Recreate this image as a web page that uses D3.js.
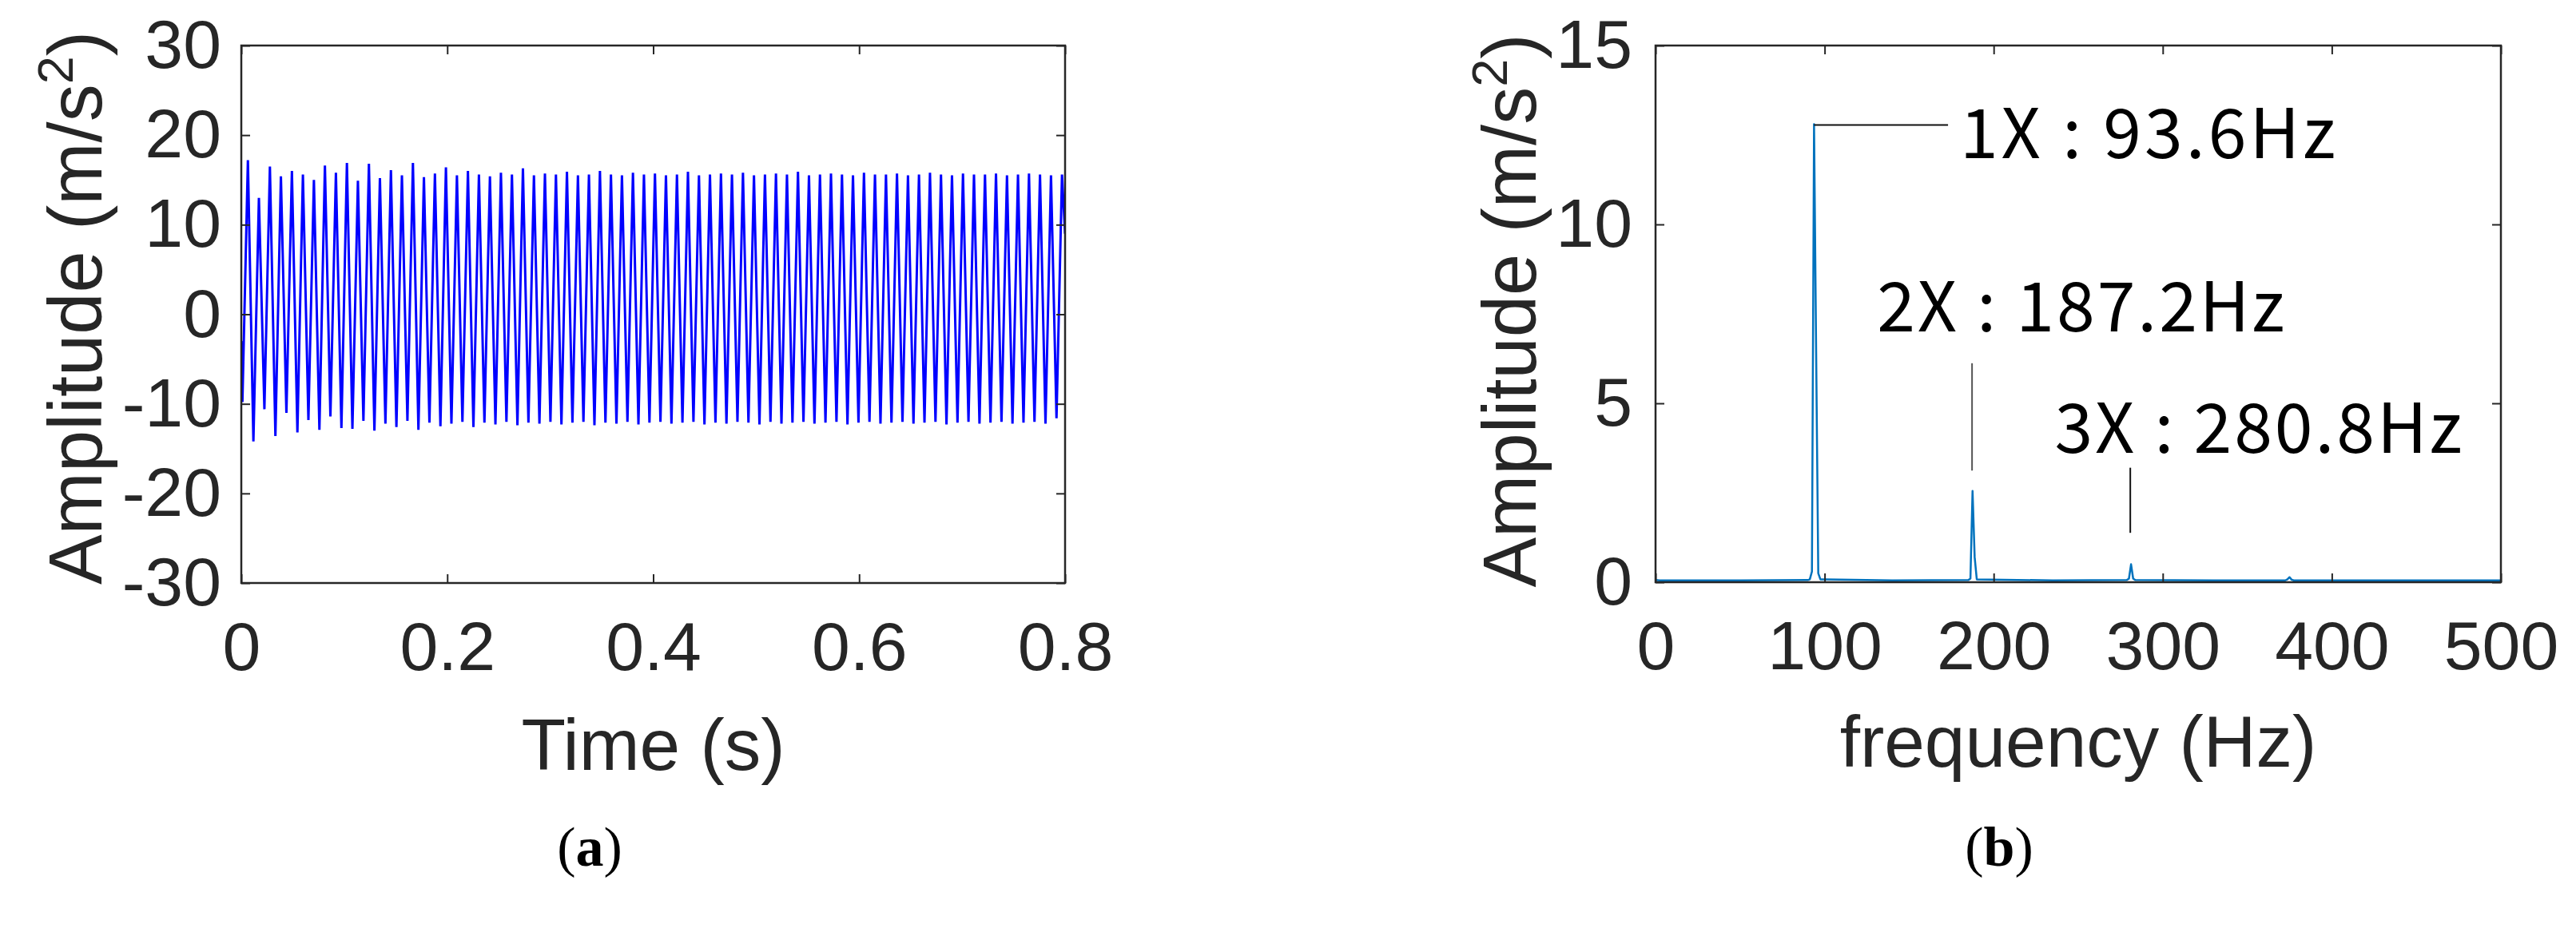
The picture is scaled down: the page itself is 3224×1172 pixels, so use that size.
<!DOCTYPE html>
<html><head><meta charset="utf-8">
<script src="https://cdn.jsdelivr.net/npm/d3@7"></script>
<style>body{margin:0;background:#fff}svg{display:block}</style>
</head><body>
<svg id="c" width="3224" height="1172"></svg>
<script>
// ---------- data ----------
const timeTicks = [0, 0.2, 0.4, 0.6, 0.8];
const accelTicks = [-30, -20, -10, 0, 10, 20, 30];
const freqTicks = [0, 100, 200, 300, 400, 500];
const spectrumTicks = [0, 5, 10, 15];

// fundamental of the vibration signal (from the 1X annotation)
const fundamentalHz = 93.6;
// per-cycle maxima / minima, m/s^2
const cyclePeaks = [17.2, 13.0, 16.5, 15.4, 16.0, 15.6, 15.0, 16.6, 15.8, 16.9,
  14.9, 16.8, 15.2, 16.1, 15.5, 16.9, 15.3, 15.7, 16.4, 15.5,
  16.0, 15.6, 15.4, 15.8, 15.6, 16.3, 15.5, 15.7, 15.6, 15.9,
  15.5, 15.6, 16.0, 15.6, 15.5, 15.8, 15.6, 15.7, 15.5, 15.6,
  15.9, 15.5, 15.6, 15.7, 15.6, 15.8, 15.5, 15.6, 15.7, 15.6,
  15.9, 15.5, 15.6, 15.7, 15.6, 15.5, 15.8, 15.6, 15.6, 15.7,
  15.5, 15.6, 15.8, 15.6, 15.5, 15.7, 15.6, 15.6, 15.7, 15.5,
  15.6, 15.7, 15.6, 15.5, 15.6];
const cycleTroughs = [-9.8, -14.2, -10.6, -13.6, -11.0, -13.2, -11.8, -12.9, -11.4, -12.7,
  -12.8, -11.9, -13.0, -12.2, -12.6, -11.9, -12.9, -12.1, -12.5, -12.2,
  -12.0, -12.6, -12.1, -12.3, -12.0, -12.4, -12.1, -12.2, -12.0, -12.3,
  -12.1, -12.0, -12.4, -12.1, -12.2, -12.0, -12.3, -12.1, -12.0, -12.2,
  -12.1, -12.0, -12.3, -12.1, -12.2, -12.0, -12.1, -12.3, -12.0, -12.2,
  -12.1, -12.0, -12.2, -12.1, -12.0, -12.3, -12.1, -12.0, -12.2, -12.1,
  -12.0, -12.2, -12.1, -12.0, -12.3, -12.1, -12.0, -12.2, -12.1, -12.0,
  -12.2, -12.1, -12.0, -12.2, -11.6];
const signalStart = -3.0;
const signalEnd = 9.0;

// spectrum (b): frequency bins (Hz) and amplitudes (m/s^2)
const specFreq = [0, 2.5, 50, 90.0, 91.25, 92.5, 93.75, 95.0, 96.25, 97.5, 140,
  185.0, 186.25, 187.5, 188.75, 190.0, 235, 278.75, 280.0, 281.25, 282.5, 283.75,
  330, 372.5, 373.75, 375.0, 376.25, 377.5, 440, 500];
const specAmp = [0.06, 0.05, 0.05, 0.06, 0.08, 0.3, 12.8, 6.4, 0.25, 0.08, 0.05,
  0.06, 0.1, 2.55, 0.7, 0.08, 0.05, 0.06, 0.1, 0.5, 0.1, 0.06,
  0.05, 0.05, 0.08, 0.14, 0.07, 0.05, 0.05, 0.05];

// harmonic annotations
const harmLabels = ["1X : 93.6Hz", "2X : 187.2Hz", "3X : 280.8Hz"];
const harmFreq = [93.6, 187.2, 280.8];
const harmLabelFreq = [180, 131, 236];   // text left edge (Hz)
const harmLabelAmp = [11.85, 7.0, 3.62];  // text baseline (m/s^2)
const harmLineFrom = [[93.75, 12.78], [187.2, 6.12], [280.8, 3.2]];
const harmLineTo = [[173, 12.78], [187.2, 3.12], [280.8, 1.38]];
const harmLabelWidth = [470, 510, 510];

// ---------- drawing ----------
const svg = d3.select('#c');
svg.append('rect').attr('width', 3224).attr('height', 1172).attr('fill', '#fff');

const AX = '#262626';
const TICKFONT = "'Liberation Sans', Arial, Helvetica, sans-serif";

function frame(g, x, y, xt, yt, L, R, T, B, fmtX, fmtY, yPad) {
  const tl = 11;
  const bottom = g.append('g').attr('transform', `translate(0,${B})`)
    .call(d3.axisBottom(x).tickValues(xt).tickSizeInner(-tl).tickSizeOuter(0).tickPadding(48).tickFormat(fmtX));
  const left = g.append('g').attr('transform', `translate(${L},0)`)
    .call(d3.axisLeft(y).tickValues(yt).tickSizeInner(-tl).tickSizeOuter(0).tickPadding(yPad).tickFormat(fmtY));
  const top = g.append('g').attr('transform', `translate(0,${T})`)
    .call(d3.axisTop(x).tickValues(xt).tickSizeInner(-tl).tickSizeOuter(0).tickFormat(''));
  const right = g.append('g').attr('transform', `translate(${R},0)`)
    .call(d3.axisRight(y).tickValues(yt).tickSizeInner(-tl).tickSizeOuter(0).tickFormat(''));
  [bottom, left, top, right].forEach(a => {
    a.select('.domain').remove();
    a.selectAll('line').attr('stroke', AX).attr('stroke-width', 2);
    a.selectAll('text').attr('fill', AX).style('font-family', TICKFONT).style('font-size', '86px');
  });
  g.append('rect').attr('x', L).attr('y', T).attr('width', R - L).attr('height', B - T)
    .attr('fill', 'none').attr('stroke', AX).attr('stroke-width', 2.5);
}

function yTitle(g, bx, cy) {
  const t = g.append('text').attr('transform', `translate(${bx},${cy}) rotate(-90)`)
    .attr('text-anchor', 'middle').attr('fill', AX)
    .style('font-family', TICKFONT).style('font-size', '94px');
  t.append('tspan').text('Amplitude (m/s');
  t.append('tspan').attr('dy', -36).style('font-size', '63px').text('2');
  t.append('tspan').attr('dy', 36).text(')');
}
function xTitle(g, cx, by, s) {
  g.append('text').attr('x', cx).attr('y', by).attr('text-anchor', 'middle').attr('fill', AX)
    .style('font-family', TICKFONT).style('font-size', '91px').text(s);
}
function caption(cx, by, letter) {
  const t = svg.append('text').attr('x', cx).attr('y', by).attr('text-anchor', 'middle').attr('fill', '#000')
    .style('font-family', "'Liberation Serif', 'Times New Roman', serif").style('font-size', '70px');
  t.append('tspan').text('(');
  t.append('tspan').style('font-weight', 'bold').text(letter);
  t.append('tspan').text(')');
}

// ----- panel (a) -----
{
  const L = 302, R = 1333, T = 57, B = 730;
  const g = svg.append('g');
  const x = d3.scaleLinear().domain([0, 0.8]).range([L, R]);
  const y = d3.scaleLinear().domain([-30, 30]).range([B, T]);
  const T0 = 1 / fundamentalHz;
  const pts = [[0, signalStart]];
  cycleTroughs.forEach((v, i) => {
    pts.push([(i + 0.1) * T0, v]);
    if (i < cyclePeaks.length) pts.push([(i + 0.6) * T0, cyclePeaks[i]]);
  });
  pts.push([0.8, signalEnd]);
  const clip = svg.append('clipPath').attr('id', 'clipA');
  clip.append('rect').attr('x', L).attr('y', T).attr('width', R - L).attr('height', B - T);
  g.append('path').datum(pts.filter(p => p[0] <= 0.8))
    .attr('clip-path', 'url(#clipA)')
    .attr('fill', 'none').attr('stroke', '#0000ff').attr('stroke-width', 3)
    .attr('d', d3.line().x(d => x(d[0])).y(d => y(d[1])));
  frame(g, x, y, timeTicks, accelTicks, L, R, T, B, d => String(d), d => String(d), 25);
  yTitle(g, 127, (T + B) / 2 - 8);
  xTitle(g, (L + R) / 2, 964, 'Time (s)');
  caption(738, 1084, 'a');
}

// ----- panel (b) -----
{
  const L = 2072, R = 3130, T = 57, B = 729;
  const g = svg.append('g');
  const x = d3.scaleLinear().domain([0, 500]).range([L, R]);
  const y = d3.scaleLinear().domain([0, 15]).range([B, T]);
  const pts = specFreq.map((f, i) => [f, specAmp[i]]);
  g.append('path').datum(pts)
    .attr('fill', 'none').attr('stroke', '#0072bd').attr('stroke-width', 2.5)
    .attr('stroke-linejoin', 'round')
    .attr('d', d3.line().x(d => x(d[0])).y(d => y(d[1])));
  frame(g, x, y, freqTicks, spectrumTicks, L, R, T, B, d => String(d), d => String(d), 29);
  // harmonic leader lines + labels
  harmLabels.forEach((s, i) => {
    g.append('line')
      .attr('x1', x(harmLineFrom[i][0])).attr('y1', y(harmLineFrom[i][1]))
      .attr('x2', x(harmLineTo[i][0])).attr('y2', y(harmLineTo[i][1]))
      .attr('stroke', i === 1 ? '#555' : '#111').attr('stroke-width', 2);
    g.append('text').attr('x', x(harmLabelFreq[i])).attr('y', y(harmLabelAmp[i]))
      .attr('fill', '#000')
      .attr('textLength', harmLabelWidth[i]).attr('lengthAdjust', 'spacing')
      .style('font-family', "'Noto Sans CJK KR', 'Open Sans', sans-serif").style('font-size', '86px')
      .text(s);
  });
  yTitle(g, 1922, (T + B) / 2 - 4);
  xTitle(g, (L + R) / 2, 960, 'frequency (Hz)');
  caption(2502, 1084, 'b');
}
</script>
</body></html>
